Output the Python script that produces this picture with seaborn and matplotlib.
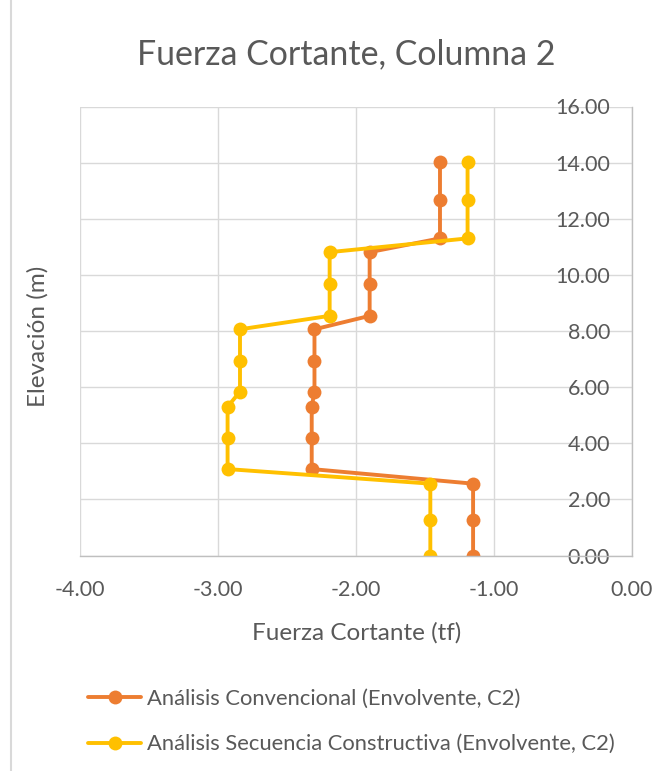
import matplotlib
matplotlib.use("Agg")
import matplotlib.pyplot as plt
from matplotlib.lines import Line2D
from matplotlib.ticker import StrMethodFormatter, MultipleLocator
import seaborn as sns
import pandas as pd

# Story elevations (m) and envelope shear force (tf) for column C2
elevacion = [0.00, 1.28, 2.56, 3.08, 4.18, 5.30, 5.84, 6.92, 8.06, 8.54, 9.67, 10.81, 11.30, 12.67, 14.03]
convencional = [-1.15, -1.15, -1.15, -2.32, -2.32, -2.32, -2.30, -2.30, -2.30,
                -1.90, -1.90, -1.90, -1.39, -1.39, -1.39]
secuencia = [-1.46, -1.46, -1.46, -2.93, -2.93, -2.93, -2.84, -2.84, -2.84,
             -2.19, -2.19, -2.19, -1.19, -1.19, -1.19]
series = ["Análisis Convencional (Envolvente, C2)",
          "Análisis Secuencia Constructiva (Envolvente, C2)"]
colores = ["#ED7D31", "#FFC000"]

titulo = "Fuerza Cortante, Columna 2"
etiqueta_x = "Fuerza Cortante (tf)"
etiqueta_y = "Elevación (m)"

df = pd.concat([
    pd.DataFrame({"Elevación": elevacion, "Cortante": convencional, "Serie": series[0]}),
    pd.DataFrame({"Elevación": elevacion, "Cortante": secuencia, "Serie": series[1]}),
], ignore_index=True)

sns.set_theme(style="white")
plt.rcParams["font.family"] = ["Lato", "DejaVu Sans"]
plt.rcParams["axes.unicode_minus"] = False

texto = "#595959"
grid_c = "#D9D9D9"
eje_c = "#BFBFBF"

fig = plt.figure(figsize=(6.71, 7.71), dpi=100)
W, H = 671, 771
ax = fig.add_axes([80 / W, 1 - 555.5 / H, (631.7 - 80) / W, (555.5 - 106.5) / H])

sns.lineplot(data=df, x="Cortante", y="Elevación", hue="Serie", hue_order=series,
             palette=colores, estimator=None, sort=False, ax=ax,
             marker="o", markersize=10, markeredgewidth=0, linewidth=2.8,
             legend=False)

ax.set_xlim(-4, 0)
ax.set_ylim(0, 16)
ax.xaxis.set_major_locator(MultipleLocator(1))
ax.yaxis.set_major_locator(MultipleLocator(2))
ax.xaxis.set_major_formatter(StrMethodFormatter("{x:.2f}"))
ax.yaxis.set_major_formatter(StrMethodFormatter("{x:.2f}"))

ax.grid(True, color=grid_c, linewidth=1.0)
ax.set_axisbelow(True)
for s in ["top", "left"]:
    ax.spines[s].set_visible(False)
for s in ["right", "bottom"]:
    ax.spines[s].set_color(eje_c)
    ax.spines[s].set_linewidth(1.0)

# Value axis crosses at x = 0: labels sit just left of the right-hand axis line
ax.yaxis.tick_right()
ax.tick_params(axis="y", length=0, pad=-15.6, labelsize=15.5, labelcolor=texto)
for lab in ax.get_yticklabels():
    lab.set_horizontalalignment("right")
ax.tick_params(axis="x", length=0, pad=18, labelsize=15.5, labelcolor=texto)

ax.set_xlabel(etiqueta_x, fontsize=17.5, color=texto)
ax.xaxis.label.set_va("center")
ax.xaxis.set_label_coords((357 - 80) / 551.7, (555.5 - 633) / 449)
ax.set_ylabel(etiqueta_y, fontsize=17.5, color=texto)
ax.yaxis.set_label_position("left")
ax.yaxis.label.set_va("center")
ax.yaxis.set_label_coords((38 - 80) / 551.7, (555.5 - 336) / 449)

fig.text(346 / W, 1 - 54 / H, titulo, ha="center", va="center", fontsize=24.4, color=texto)

handles = [Line2D([], [], color=c, linewidth=2.8, marker="o", markersize=10,
                  markeredgewidth=0) for c in colores]
fig.legend(handles, series, loc="upper left", bbox_to_anchor=(88 / W, 1 - 689 / H),
           frameon=False, fontsize=15.8, labelcolor=texto, handlelength=2.42,
           handletextpad=0.27, labelspacing=1.15, borderaxespad=0, borderpad=0)

fig.add_artist(Line2D([10.5 / W, 10.5 / W], [0, 1], transform=fig.transFigure,
                      color=grid_c, linewidth=1.5))

fig.savefig("out.png", dpi=100, facecolor="white")
